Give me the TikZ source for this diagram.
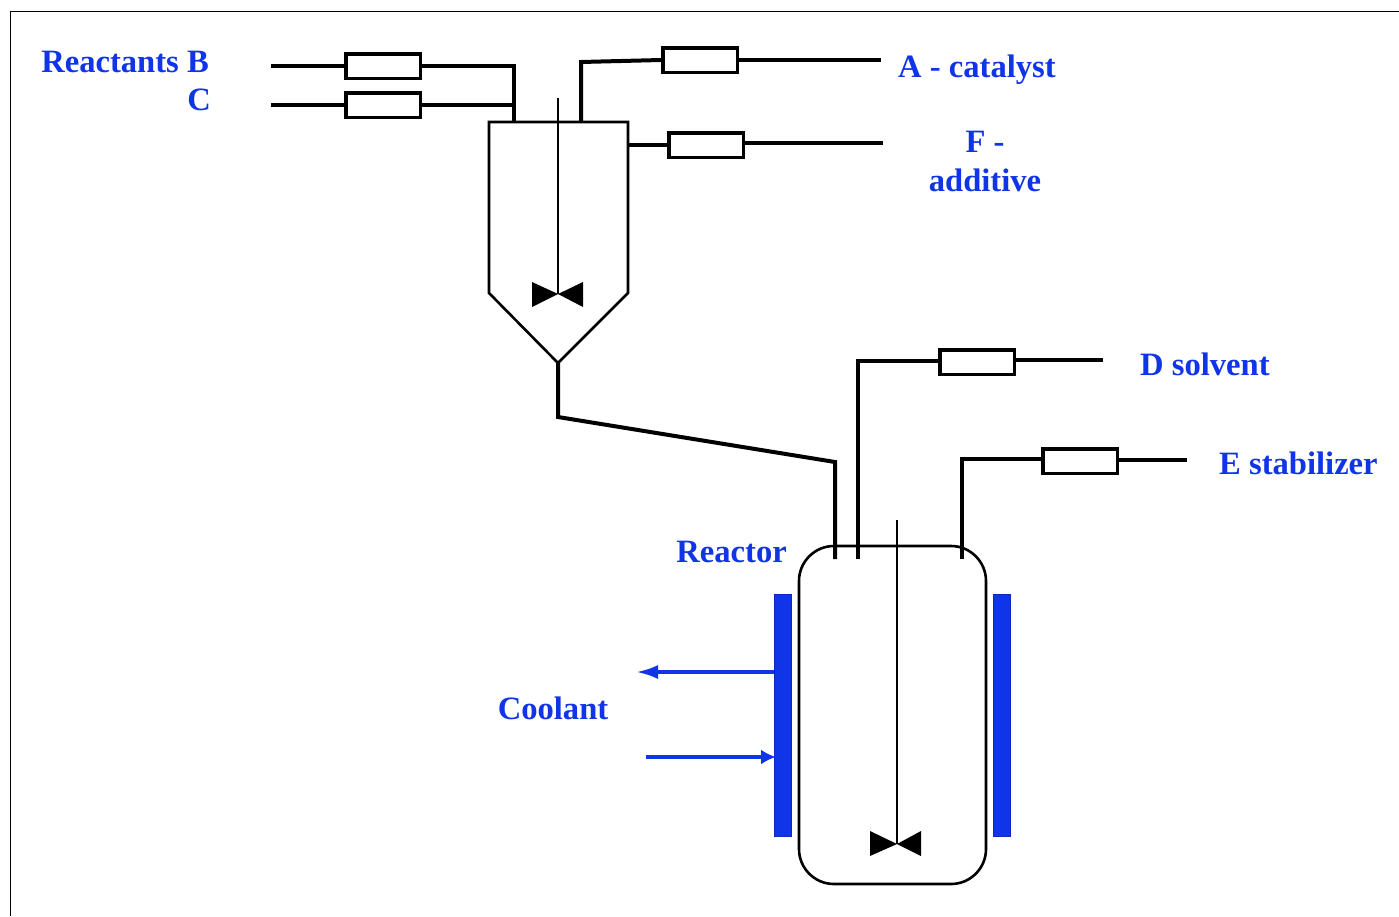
\documentclass[tikz,border=0pt]{standalone}
\usepackage{fontspec}
\setmainfont{Liberation Serif}
\usetikzlibrary{positioning, arrows.meta}
\definecolor{labelblue}{RGB}{16,52,232}
\tikzset{
    valve/.style={draw, line width=3.5pt, fill=white, minimum width=74.5pt, minimum height=24.5pt, inner sep=0pt},
    pipe/.style={line width=4pt},
    wall/.style={line width=2.6pt},
    shaft/.style={line width=2.2pt},
    blade/.style={fill=black},
    jacket/.style={draw=labelblue!80!black, fill=labelblue, minimum width=17pt, minimum height=242pt, inner sep=0pt},
    coolant/.style={draw=labelblue, line width=3.8pt},
    lbl/.style={text=labelblue, font=\fontsize{32.6}{39}\selectfont\bfseries, inner sep=0pt, align=center},
}
\begin{document}
\begin{tikzpicture}[x=1pt, y=-1pt]
\useasboundingbox (0,0) rectangle (1399,916);
\fill[white] (0,0) rectangle (1399,916);

\coordinate (frameBL) at (10.5,916);
\coordinate (frameTL) at (10.5,11.5);
\coordinate (frameTR) at (1399,11.5);
\draw[line width=1.5pt] (frameBL) -- (frameTL) -- (frameTR);

\node[valve] (vB) at (383,66) {};
\node[valve] (vC) at (383,105) {};
\node[valve] (vA) at (700,60) {};
\node[valve] (vF) at (706,145) {};
\node[valve] (vD) at (977,362) {};
\node[valve] (vE) at (1080,461) {};

\coordinate (tankTL) at (489,122);
\coordinate (tankTR) at (628,122);
\coordinate (tankR) at (628,293);
\coordinate (tankTip) at (558,363);
\coordinate (tankL) at (489,293);
\draw[wall] (tankTL) -- (tankTR) -- (tankR) -- (tankTip) -- (tankL) -- cycle;

\node[draw, wall, rounded corners=35pt, minimum width=187pt, minimum height=338pt, inner sep=0pt] (reactor) at (892.5,715) {};
\node[jacket] (jacketL) at (783,715.5) {};
\node[jacket] (jacketR) at (1002,715.5) {};

\coordinate (inB) at (271,66);
\coordinate (inC) at (271,105);
\coordinate (inA) at (881,60);
\coordinate (inF) at (883,143);
\coordinate (inD) at (1103,360);
\coordinate (inE) at (1187,460);
\coordinate (cornerB) at (514,66);
\coordinate (mergeC) at (514,105);
\coordinate (portB) at (514,122);
\coordinate (cornerA) at (581,62);
\coordinate (portA) at (581,122);
\coordinate (portF) at (628,145);
\coordinate (drop) at (558,417);
\coordinate (bend) at (835,462);
\coordinate (portFeed) at (835,559);
\coordinate (cornerD) at (858,361);
\coordinate (portD) at (858,559);
\coordinate (cornerE) at (962,459);
\coordinate (portE) at (962,559);

\draw[pipe] (inB) -- (vB);
\draw[pipe] (vB) -- (cornerB) -- (portB);
\draw[pipe] (inC) -- (vC);
\draw[pipe] (vC) -- (mergeC);
\draw[pipe] (portA) -- (cornerA) -- (vA.west);
\draw[pipe] (vA) -- (inA);
\draw[pipe] (portF) -- (vF.west);
\draw[pipe] (vF.east |- inF) -- (inF);
\draw[pipe] (tankTip) -- (drop) -- (bend) -- (portFeed);
\draw[pipe] (portD) -- (cornerD) -- (vD.west |- cornerD);
\draw[pipe] (vD.east |- inD) -- (inD);
\draw[pipe] (portE) -- (cornerE) -- (vE.west |- cornerE);
\draw[pipe] (vE.east |- inE) -- (inE);

\coordinate (shaftTopA) at (558,98);
\coordinate (hubA) at (558,294);
\coordinate (shaftTopB) at (897,520);
\coordinate (hubB) at (897,844);
\draw[shaft] (shaftTopA) -- (hubA);
\draw[shaft] (shaftTopB) -- (hubB);
\fill[blade] (532,282) -- (hubA) -- (583,282) -- (583,307) -- (hubA) -- (532,307) -- cycle;
\fill[blade] (870,831) -- (hubB) -- (921,831) -- (921,856) -- (hubB) -- (870,856) -- cycle;

\coordinate (outEnd) at (636,672);
\coordinate (inStart) at (646,757);
\coordinate (inHead) at (776,757);
\draw[coolant, -{Latex[length=22pt,width=14pt]}] (jacketL.west |- outEnd) -- (outEnd);
\draw[coolant, -{Latex[length=15pt,width=15pt]}] (inStart) -- (inHead);

\node[lbl, anchor=east] (lblB) at (209,62) {Reactants B};
\node[lbl, anchor=east] (lblC) at (211,100) {C};
\node[lbl, anchor=west] (lblA) at (898,70) {A - catalyst};
\node[lbl] (lblF) at (985,161) {F -\\additive};
\node[lbl, anchor=west] (lblD) at (1140,364) {D solvent};
\node[lbl, anchor=west] (lblE) at (1219,463) {E stabilizer};
\node[lbl, anchor=east] (lblReactor) at (787,552) {Reactor};
\node[lbl] (lblCoolant) at (553,708) {Coolant};
\end{tikzpicture}
\end{document}
